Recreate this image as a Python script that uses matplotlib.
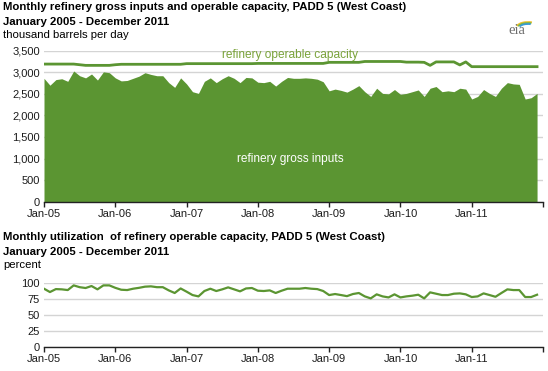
import matplotlib
matplotlib.use("Agg")
import matplotlib.pyplot as plt
from matplotlib.patches import Arc
import numpy as np

plt.rcParams['font.family'] = ['Liberation Sans', 'DejaVu Sans']

# --- data ---
# refinery gross inputs, thousand barrels per day, Jan-05 .. Dec-11
gross_inputs = [
    2860, 2700, 2830, 2850, 2790, 3030, 2920, 2870, 2960, 2820, 3010, 2990,
    2870, 2800, 2810, 2860, 2910, 2990, 2950, 2920, 2920, 2760, 2650, 2870,
    2730, 2550, 2510, 2790, 2870, 2760, 2850, 2920, 2860, 2760, 2880, 2870,
    2770, 2760, 2790, 2680, 2790, 2880, 2860, 2860, 2870, 2860, 2840, 2780,
    2570, 2610, 2580, 2540, 2610, 2690, 2550, 2440, 2630, 2510, 2500, 2600,
    2490, 2510, 2550, 2590, 2440, 2630, 2670, 2550, 2570, 2550, 2630, 2610,
    2380, 2440, 2600, 2510, 2440, 2630, 2760, 2730, 2720, 2380, 2410, 2510,
]
# refinery operable capacity
operable_capacity = [
    3190, 3190, 3190, 3190, 3190, 3190, 3175, 3160, 3160, 3160, 3160, 3160,
    3175, 3185, 3185, 3185, 3185, 3185, 3185, 3185, 3185, 3185, 3185, 3185,
    3200, 3200, 3200, 3200, 3200, 3200, 3200, 3200, 3200, 3200, 3200, 3200,
    3205, 3205, 3205, 3205, 3205, 3205, 3205, 3205, 3205, 3205, 3205, 3205,
    3230, 3230, 3230, 3230, 3230, 3230, 3250, 3250, 3250, 3250, 3250, 3250,
    3250, 3235, 3235, 3235, 3230, 3160, 3240, 3240, 3240, 3240, 3170, 3240,
    3130, 3130, 3130, 3130, 3130, 3130, 3130, 3130, 3130, 3130, 3130, 3130,
]
# utilization of operable capacity, percent
utilization = [
    90.6, 85.4, 90.0, 89.6, 88.5, 95.8, 93.0, 91.7, 94.8, 89.6, 95.8, 95.8,
    92.0, 89.0, 88.5, 90.6, 92.0, 93.8, 94.3, 93.0, 93.0, 88.0, 83.9, 91.0,
    86.0, 80.7, 78.6, 87.0, 90.6, 87.0, 89.6, 92.7, 89.6, 86.5, 91.0, 91.7,
    87.5, 87.0, 88.0, 83.9, 87.5, 90.6, 90.6, 90.6, 91.7, 90.6, 90.0, 87.0,
    80.7, 82.3, 80.7, 79.0, 82.3, 83.9, 78.6, 75.5, 81.8, 78.6, 77.0, 81.8,
    77.0, 78.6, 79.7, 81.2, 75.5, 84.9, 82.8, 80.7, 80.7, 82.8, 83.3, 81.8,
    77.6, 78.6, 83.3, 80.7, 78.0, 83.9, 89.6, 88.5, 88.5, 77.6, 77.6, 81.2,
]
year_labels = ['Jan-05', 'Jan-06', 'Jan-07', 'Jan-08', 'Jan-09', 'Jan-10', 'Jan-11']
top_yticks = [0, 500, 1000, 1500, 2000, 2500, 3000, 3500]
bottom_yticks = [0, 25, 50, 75, 100]

months = np.arange(len(gross_inputs))
year_ticks = months[::12]

green = '#5b9532'
label_green = '#7aa33a'
grid_gray = '#d4d4d4'
text_dark = '#1c1c1c'

W, H = 548, 371
fig = plt.figure(figsize=(W / 100, H / 100), dpi=100)


def fig_box(left, top, right, bottom):
    # convert pixel box to figure fraction
    return [left / W, 1 - bottom / H, (right - left) / W, (bottom - top) / H]


def style_axis(ax, yticks, fmt):
    ax.set_xlim(0, 84)
    ax.set_yticks(yticks)
    ax.set_yticklabels([fmt(v) for v in yticks])
    ax.set_xticks(list(year_ticks) + [84])
    ax.set_xticklabels(year_labels + [''])
    for side in ['top', 'right', 'left']:
        ax.spines[side].set_visible(False)
    ax.spines['bottom'].set_color('#222222')
    ax.spines['bottom'].set_linewidth(1.0)
    ax.grid(axis='y', color=grid_gray, linewidth=1.0)
    ax.set_axisbelow(True)
    ax.tick_params(axis='y', length=0, pad=3, labelsize=8, labelcolor=text_dark)
    ax.tick_params(axis='x', length=3.5, width=1.0, color='#222222', pad=1.5,
                   labelsize=8, labelcolor=text_dark)


# --- top chart: gross inputs and operable capacity ---
ax1 = fig.add_axes(fig_box(44, 50.7, 543, 201.7))
ax1.fill_between(months, 0, gross_inputs, color=green, linewidth=0, zorder=2)
ax1.plot(months, operable_capacity, color=green, linewidth=2, zorder=3)
ax1.set_ylim(0, 3500)
style_axis(ax1, top_yticks, lambda v: f"{v:,}")
ax1.text(41.5, 3395, 'refinery operable capacity', color=label_green,
         fontsize=8.6, ha='center', va='center', zorder=4)
ax1.text(41.5, 1000, 'refinery gross inputs', color='white',
         fontsize=8.6, ha='center', va='center', zorder=4)

# --- bottom chart: utilization ---
ax2 = fig.add_axes(fig_box(44, 282.7, 543, 346.7))
ax2.plot(months, utilization, color=green, linewidth=1.6, zorder=3)
ax2.set_ylim(0, 100)
style_axis(ax2, bottom_yticks, lambda v: f"{v}")
ax2.spines['bottom'].set_zorder(4)

# --- titles ---
def px_text(x, y, s, **kw):
    fig.text(x / W, 1 - y / H, s, ha='left', va='center', color='black', **kw)

px_text(3, 7.5, 'Monthly refinery gross inputs and operable capacity, PADD 5 (West Coast)',
        fontsize=8.2, fontweight='bold')
px_text(3, 22, 'January 2005 - December 2011', fontsize=8.2, fontweight='bold')
px_text(3, 35.5, 'thousand barrels per day', fontsize=8.2)
px_text(3, 237, 'Monthly utilization  of refinery operable capacity, PADD 5 (West Coast)',
        fontsize=8.2, fontweight='bold')
px_text(3, 252, 'January 2005 - December 2011', fontsize=8.2, fontweight='bold')
px_text(3, 265.5, 'percent', fontsize=8.2)

# --- eia logo ---
fig.text(517 / W, 1 - 31 / H, 'eia', fontsize=10.5, color='#6d6d6d',
         family=['Liberation Serif', 'DejaVu Serif'], ha='center', va='center')
lax = fig.add_axes(fig_box(505, 14, 535, 40))
lax.set_xlim(505, 535)
lax.set_ylim(0, 26)
lax.axis('off')
for w, h, c in [(24, 12, '#f2c12e'), (21, 10, '#7db646'), (18, 8, '#3a9bd5')]:
    lax.add_patch(Arc((528, 12), w, h, theta1=55, theta2=170, color=c, linewidth=1.3))

fig.savefig('out.png', dpi=100)
